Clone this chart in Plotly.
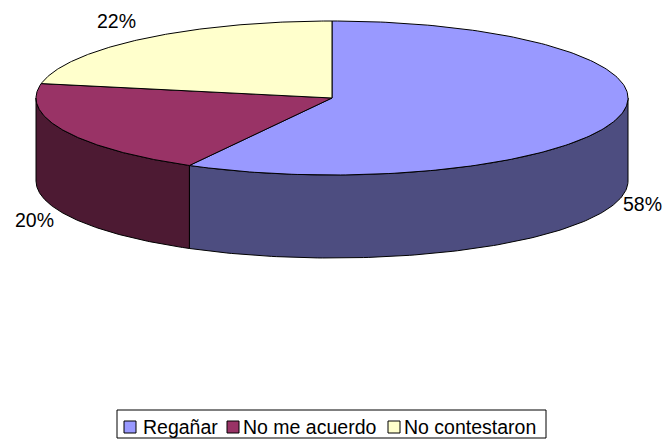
import numpy as np
import plotly.graph_objects as go

categories = ["Regañar", "No me acuerdo", "No contestaron"]
values = [58, 20, 22]
labels = ["58%", "20%", "22%"]
top_colors = ["#9999FF", "#993366", "#FFFFCC"]
side_colors = ["#4D4D80", "#4D1A33", "#80806A"]

W, H = 672, 439
OFF = 8               # browser body margin: the figure starts at (8, 8) on the page
cx, cy = 332, 98      # ellipse centre (page pixels)
rx, ry = 296, 77      # ellipse radii
depth = 83            # thickness of the pie
FS = 19.5

total = sum(values)
bounds = np.concatenate([[0], np.cumsum(values)]) / total * 360.0


def pt(theta_deg, dy=0.0):
    t = np.radians(theta_deg)
    return cx + rx * np.sin(t), cy - ry * np.cos(t) + dy


fig = go.Figure()
line = dict(color="black", width=1)

# side faces (only the front half, 90..270 degrees, is visible)
for i in range(len(values)):
    a, b = bounds[i], bounds[i + 1]
    a2, b2 = max(a, 90), min(b, 270)
    if a2 >= b2:
        continue
    th = np.linspace(a2, b2, 120)
    xt, yt = pt(th)
    xb, yb = pt(th[::-1], depth)
    xs = np.concatenate([xt, xb, xt[:1]])
    ys = np.concatenate([yt, yb, yt[:1]])
    fig.add_trace(go.Scatter(x=xs, y=ys, mode="lines", fill="toself",
                             fillcolor=side_colors[i], line=line,
                             showlegend=False, hoverinfo="skip"))

# top faces
for i in range(len(values)):
    a, b = bounds[i], bounds[i + 1]
    th = np.linspace(a, b, 200)
    xa, ya = pt(th)
    xs = np.concatenate([[cx], xa, [cx]])
    ys = np.concatenate([[cy], ya, [cy]])
    fig.add_trace(go.Scatter(x=xs, y=ys, mode="lines", fill="toself",
                             fillcolor=top_colors[i], line=line,
                             showlegend=False, name=categories[i],
                             hovertemplate=categories[i] + ": " + labels[i] + "<extra></extra>"))

# percentage labels
for i in range(len(values)):
    m = (bounds[i] + bounds[i + 1]) / 2
    s, c = np.sin(np.radians(m)), np.cos(np.radians(m))
    kx = 1.01 if s > 0 else 1.035
    lx = cx + kx * rx * s
    if c < 0:
        ly = cy - 1.15 * ry * c + depth + 1
    else:
        ly = cy - 1.3 * ry * c
    fig.add_annotation(x=lx, y=ly, text=labels[i], showarrow=False,
                       xanchor="left" if s > 0 else "right", yanchor="middle",
                       borderpad=0, font=dict(size=FS, color="black"))

# legend (drawn to match the compact Excel legend)
leg_box = dict(x0=117, x1=546, y0=410, y1=438)
leg_sq_x = [124, 227, 388]
leg_txt_x = [141, 241, 402]
leg_y = 427
fig.add_shape(type="rect", xref="x", yref="y", **leg_box,
              line=dict(color="black", width=1), fillcolor="white", layer="below")
for i in range(len(categories)):
    fig.add_shape(type="rect", xref="x", yref="y",
                  x0=leg_sq_x[i], x1=leg_sq_x[i] + 12, y0=leg_y - 6, y1=leg_y + 6,
                  line=dict(color="black", width=1), fillcolor=top_colors[i])
    fig.add_annotation(x=leg_txt_x[i], y=leg_y, text=categories[i], showarrow=False,
                       xanchor="left", yanchor="middle",
                       font=dict(size=FS, color="black"))

fig.update_layout(
    width=W - OFF, height=H - OFF,
    margin=dict(l=0, r=0, t=0, b=0),
    paper_bgcolor="white", plot_bgcolor="white",
    font=dict(family="Arial, Liberation Sans, sans-serif", color="black"),
    xaxis=dict(range=[OFF, W], visible=False, fixedrange=True),
    yaxis=dict(range=[H, OFF], visible=False, fixedrange=True),
    showlegend=False,
)

fig.write_html("out.html",
               post_script="document.documentElement.style.overflow='hidden';"
                           "document.body.style.overflow='hidden';")
